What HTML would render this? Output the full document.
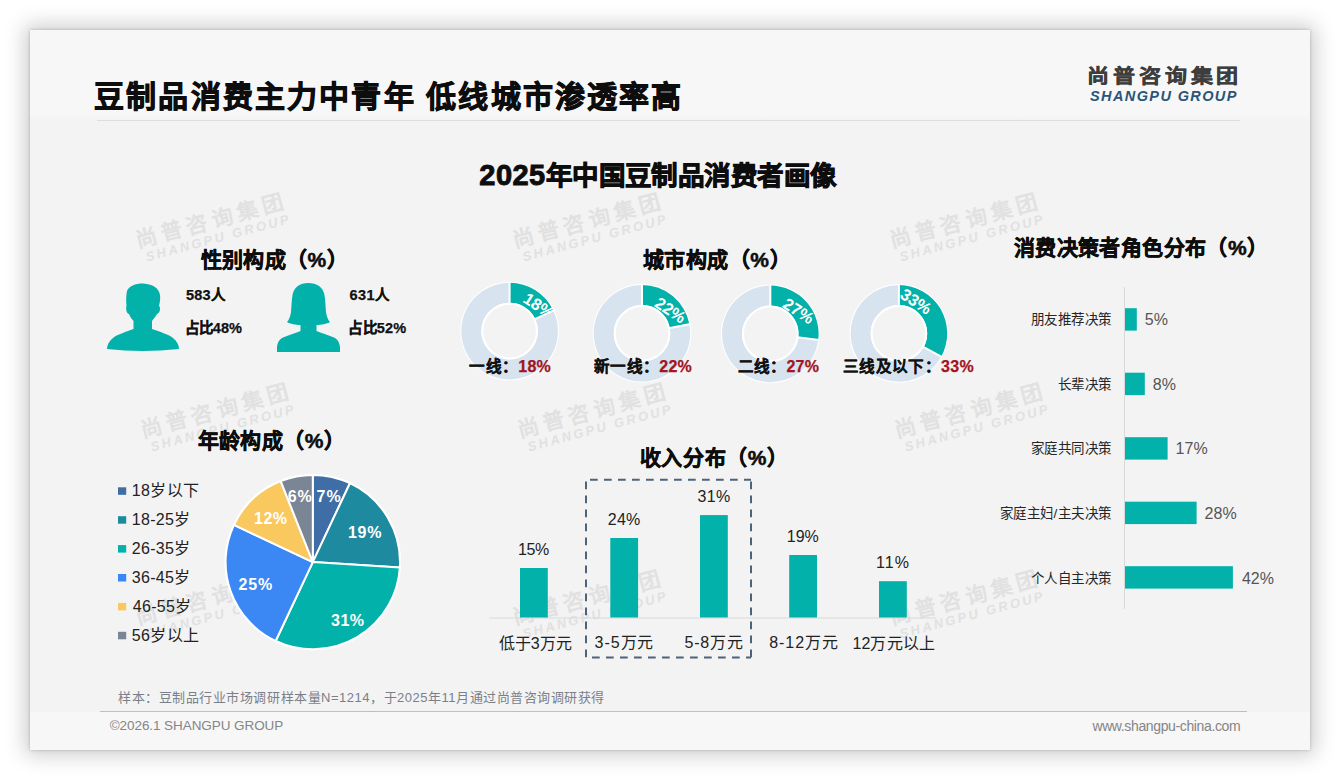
<!DOCTYPE html>
<html lang="zh-CN"><head><meta charset="utf-8"><style>
*{margin:0;padding:0;box-sizing:border-box}
html,body{width:1340px;height:780px;background:#fff;overflow:hidden;font-family:"Liberation Sans",sans-serif}
.card{position:absolute;left:30px;top:30px;width:1280px;height:720px;background:#f3f3f3;box-shadow:0 0 3px rgba(0,0,0,0.22),0 0 20px 5px rgba(0,0,0,0.2)}
.foot{position:absolute;left:30px;top:712px;width:1280px;height:38px;background:#f7f7f7}
.hdr{position:absolute;left:30px;top:30px;width:1280px;height:90px;background:linear-gradient(to bottom,#f7f7f7 0,#f7f7f7 85px,#f3f3f3 90px)}
.g{position:absolute;left:0;top:0}
.t{position:absolute;white-space:nowrap;line-height:1.2}
.b{-webkit-text-stroke:0.9px currentColor}
.bm{-webkit-text-stroke:0.5px currentColor}
.bs{-webkit-text-stroke:0.25px currentColor}
.dl{font-family:"Liberation Sans",sans-serif;font-size:16.5px;font-weight:bold}
.wm{position:absolute;width:0;height:0}
.wm1,.wm2{position:absolute;white-space:nowrap;color:#e1e1e1;font-weight:bold;line-height:1}
.wm1{right:0;top:-2.5px;font-size:21.5px;letter-spacing:4.2px;transform-origin:100% 0;transform:rotate(-15deg)}
.wm2{right:-3.5px;top:18.5px;font-size:13px;letter-spacing:2.6px;font-style:italic;transform-origin:100% 0;transform:rotate(-15deg)}
</style></head><body>
<div class="card"></div><div class="hdr"></div><div class="foot"></div>
<div class="wm" style="left:285.6px;top:193.4px"><div class="wm1">尚普咨询集团</div><div class="wm2">SHANGPU GROUP</div></div><div class="wm" style="left:662.6px;top:193.4px"><div class="wm1">尚普咨询集团</div><div class="wm2">SHANGPU GROUP</div></div><div class="wm" style="left:1039.6px;top:193.4px"><div class="wm1">尚普咨询集团</div><div class="wm2">SHANGPU GROUP</div></div><div class="wm" style="left:290.6px;top:383.4px"><div class="wm1">尚普咨询集团</div><div class="wm2">SHANGPU GROUP</div></div><div class="wm" style="left:667.6px;top:383.4px"><div class="wm1">尚普咨询集团</div><div class="wm2">SHANGPU GROUP</div></div><div class="wm" style="left:1044.6px;top:383.4px"><div class="wm1">尚普咨询集团</div><div class="wm2">SHANGPU GROUP</div></div><div class="wm" style="left:285.6px;top:570.9px"><div class="wm1">尚普咨询集团</div><div class="wm2">SHANGPU GROUP</div></div><div class="wm" style="left:662.6px;top:570.9px"><div class="wm1">尚普咨询集团</div><div class="wm2">SHANGPU GROUP</div></div><div class="wm" style="left:1039.6px;top:570.9px"><div class="wm1">尚普咨询集团</div><div class="wm2">SHANGPU GROUP</div></div>
<svg class="g" width="1340" height="780" viewBox="0 0 1340 780" font-family="Liberation Sans, sans-serif"><line x1="97" y1="120.5" x2="1240" y2="120.5" stroke="#dedede" stroke-width="1"/><line x1="100" y1="711.5" x2="1247" y2="711.5" stroke="#b3c2d1" stroke-width="1"/><circle cx="509.6" cy="331.1" r="49.3" fill="#fff"/><path d="M509.60,282.80 A48.3,48.3 0 0 1 553.30,310.53 L535.21,319.05 A28.3,28.3 0 0 0 509.60,302.80 Z" fill="#02b1a9"/><text x="539" y="305.5" transform="rotate(33 539 305.5)" text-anchor="middle" dominant-baseline="central" fill="#fff" class="dl">18%</text><path d="M553.30,310.53 A48.3,48.3 0 1 1 509.59,282.80 L509.60,302.80 A28.3,28.3 0 1 0 535.21,319.05 Z" fill="#d7e3ef"/><circle cx="509.6" cy="331.1" r="27.3" fill="#f3f3f3" stroke="#fff" stroke-width="2"/><line x1="509.60" y1="303.80" x2="509.60" y2="281.80" stroke="#fff" stroke-width="2"/><line x1="534.30" y1="319.48" x2="554.21" y2="310.11" stroke="#fff" stroke-width="2"/><circle cx="642" cy="333.3" r="49.3" fill="#fff"/><path d="M642.00,285.00 A48.3,48.3 0 0 1 689.44,324.25 L669.80,328.00 A28.3,28.3 0 0 0 642.00,305.00 Z" fill="#02b1a9"/><text x="670.6" y="309.9" transform="rotate(33 670.6 309.9)" text-anchor="middle" dominant-baseline="central" fill="#fff" class="dl">22%</text><path d="M689.44,324.25 A48.3,48.3 0 1 1 641.99,285.00 L642.00,305.00 A28.3,28.3 0 1 0 669.80,328.00 Z" fill="#d7e3ef"/><circle cx="642" cy="333.3" r="27.3" fill="#f3f3f3" stroke="#fff" stroke-width="2"/><line x1="642.00" y1="306.00" x2="642.00" y2="284.00" stroke="#fff" stroke-width="2"/><line x1="668.82" y1="328.18" x2="690.43" y2="324.06" stroke="#fff" stroke-width="2"/><circle cx="770.3" cy="333.9" r="49.3" fill="#fff"/><path d="M770.30,285.60 A48.3,48.3 0 0 1 818.22,339.95 L798.38,337.45 A28.3,28.3 0 0 0 770.30,305.60 Z" fill="#02b1a9"/><text x="798.7" y="310.8" transform="rotate(33 798.7 310.8)" text-anchor="middle" dominant-baseline="central" fill="#fff" class="dl">27%</text><path d="M818.22,339.95 A48.3,48.3 0 1 1 770.29,285.60 L770.30,305.60 A28.3,28.3 0 1 0 798.38,337.45 Z" fill="#d7e3ef"/><circle cx="770.3" cy="333.9" r="27.3" fill="#f3f3f3" stroke="#fff" stroke-width="2"/><line x1="770.30" y1="306.60" x2="770.30" y2="284.60" stroke="#fff" stroke-width="2"/><line x1="797.38" y1="337.32" x2="819.21" y2="340.08" stroke="#fff" stroke-width="2"/><circle cx="898.9" cy="333.4" r="49.3" fill="#fff"/><path d="M898.90,285.10 A48.3,48.3 0 0 1 941.23,356.67 L923.70,347.03 A28.3,28.3 0 0 0 898.90,305.10 Z" fill="#02b1a9"/><text x="916.2" y="301.2" transform="rotate(33 916.2 301.2)" text-anchor="middle" dominant-baseline="central" fill="#fff" class="dl">33%</text><path d="M941.23,356.67 A48.3,48.3 0 1 1 898.89,285.10 L898.90,305.10 A28.3,28.3 0 1 0 923.70,347.03 Z" fill="#d7e3ef"/><circle cx="898.9" cy="333.4" r="27.3" fill="#f3f3f3" stroke="#fff" stroke-width="2"/><line x1="898.90" y1="306.10" x2="898.90" y2="284.10" stroke="#fff" stroke-width="2"/><line x1="922.82" y1="346.55" x2="942.10" y2="357.15" stroke="#fff" stroke-width="2"/><circle cx="312.8" cy="562.1" r="88.2" fill="#fff"/><path d="M312.80,562.10 L312.80,474.90 A87.2,87.2 0 0 1 349.93,483.20 Z" fill="#3f6ea6" stroke="#fff" stroke-width="2" stroke-linejoin="round"/><path d="M312.80,562.10 L349.93,483.20 A87.2,87.2 0 0 1 399.83,567.58 Z" fill="#1e8aa0" stroke="#fff" stroke-width="2" stroke-linejoin="round"/><path d="M312.80,562.10 L399.83,567.58 A87.2,87.2 0 0 1 275.67,641.00 Z" fill="#02b1a9" stroke="#fff" stroke-width="2" stroke-linejoin="round"/><path d="M312.80,562.10 L275.67,641.00 A87.2,87.2 0 0 1 233.90,524.97 Z" fill="#3b88f5" stroke="#fff" stroke-width="2" stroke-linejoin="round"/><path d="M312.80,562.10 L233.90,524.97 A87.2,87.2 0 0 1 280.70,481.02 Z" fill="#f9c85f" stroke="#fff" stroke-width="2" stroke-linejoin="round"/><path d="M312.80,562.10 L280.70,481.02 A87.2,87.2 0 0 1 312.80,474.90 Z" fill="#7a8596" stroke="#fff" stroke-width="2" stroke-linejoin="round"/><line x1="489" y1="618" x2="936.5" y2="618" stroke="#d9d9d9" stroke-width="1"/><rect x="520" y="568" width="27.8" height="49.5" fill="#02b1a9"/><rect x="610.3" y="538" width="27.8" height="79.5" fill="#02b1a9"/><rect x="700" y="515.1" width="27.8" height="102.4" fill="#02b1a9"/><rect x="789.2" y="555" width="27.8" height="62.5" fill="#02b1a9"/><rect x="879" y="581.2" width="27.8" height="36.3" fill="#02b1a9"/><path d="M590,479.8 H751 M586,481.5 V657.5 H751 M751,481.5 V657.5" fill="none" stroke="#4d6379" stroke-width="2" stroke-dasharray="7.7,6.3"/><line x1="1124.5" y1="287" x2="1124.5" y2="609" stroke="#d9d9d9" stroke-width="1"/><rect x="1125" y="308.2" width="11.8" height="22.4" fill="#02b1a9"/><rect x="1125" y="372.7" width="19.8" height="22.4" fill="#02b1a9"/><rect x="1125" y="437.2" width="42.6" height="22.4" fill="#02b1a9"/><rect x="1125" y="501.7" width="71.6" height="22.4" fill="#02b1a9"/><rect x="1125" y="566.2" width="107.9" height="22.4" fill="#02b1a9"/><rect x="118" y="487.3" width="8.2" height="7.5" fill="#3f6ea6"/><rect x="118" y="516.2" width="8.2" height="7.5" fill="#1e8aa0"/><rect x="118" y="545.1" width="8.2" height="7.5" fill="#02b1a9"/><rect x="118" y="574.0" width="8.2" height="7.5" fill="#3b88f5"/><rect x="118" y="602.9" width="8.2" height="7.5" fill="#f9c85f"/><rect x="118" y="631.8" width="8.2" height="7.5" fill="#7a8596"/><path fill="#02b1a9" d="M133.5,321 L133.5,329 C126,332 118,334 113,338 C109,341 107,345 107,349 Q142,353 179,349 C179,345 177,341 173,338 C168,334 160,332 152,329 L152,321 C154,318 156,316 157,314 C159,313 160,311 160,309 C160,307 159.5,306 159,306 C160,302 160.5,298 160,295 C159,289 154,284 143,283.5 C135,283.5 129,286 127,291 C126,296 126,301 126.5,306 C126,307 126,309 126.5,311 C127,313 128,314 129,314 C130,317 132,319 133.5,321 Z"/><path fill="#02b1a9" d="M308,283 C300,283 294,287 292.5,295 C291.5,301 291.5,307 291,312 C290.5,316 289,320 287,322 C290,324 296,325 300.5,325 L300.5,331 C296,333 289,335 283,337.5 C279,339.5 277.5,343 277,347 L277,352 L340,352 L340,347 C339.5,343 338,339.5 334,337.5 C328,335 321,333 316.5,331 L316.5,325 C321,325 327,324 330,322 C328,320 326.5,316 326,312 C325.5,307 325.5,301 324.5,295 C323,287 317,283 308,283 Z"/></svg>
<div class="t b" style="left:94.0px;top:78.8px;font-size:30px;font-weight:bold;letter-spacing:2.17px;color:#0d0d0d">豆制品消费主力中青年 低线城市渗透率高</div><div class="t bm" style="left:1087.0px;top:64.2px;font-size:22px;font-weight:bold;transform:scaleY(0.86);transform-origin:0 50%;letter-spacing:3.88px;color:#3d3d3d">尚普咨询集团</div><div class="t " style="left:1090.0px;top:87.8px;font-size:14.5px;font-weight:bold;font-style:italic;letter-spacing:1.39px;color:#2b5479">SHANGPU GROUP</div><div class="t b" style="left:479.3px;top:158.4px;font-size:26.5px;font-weight:bold;letter-spacing:0.45px;color:#0d0d0d"><span style="font-size:29px">2025</span>年中国豆制品消费者画像</div><div class="t bm" style="left:200.7px;top:247.4px;font-size:21px;font-weight:bold;letter-spacing:0.37px;color:#0d0d0d">性别构成（%）</div><div class="t bm" style="left:642.5px;top:246.6px;font-size:21px;font-weight:bold;letter-spacing:0.57px;color:#0d0d0d">城市构成（%）</div><div class="t bm" style="left:197.5px;top:427.6px;font-size:21px;font-weight:bold;letter-spacing:0.47px;color:#0d0d0d">年龄构成（%）</div><div class="t bm" style="left:639.7px;top:445.0px;font-size:21px;font-weight:bold;letter-spacing:0.63px;color:#0d0d0d">收入分布（%）</div><div class="t bm" style="left:1013.7px;top:235.4px;font-size:21px;font-weight:bold;letter-spacing:0.42px;color:#0d0d0d">消费决策者角色分布（%）</div><div class="t bs" style="left:186.0px;top:286.6px;font-size:14.5px;font-weight:bold;letter-spacing:0.2px;color:#111">583人</div><div class="t bs" style="left:184.5px;top:319.9px;font-size:14.5px;font-weight:bold;letter-spacing:0.12px;color:#111">占比48%</div><div class="t bs" style="left:349.6px;top:286.6px;font-size:14.5px;font-weight:bold;letter-spacing:0.4px;color:#111">631人</div><div class="t bs" style="left:348.4px;top:319.9px;font-size:14.5px;font-weight:bold;letter-spacing:0.2px;color:#111">占比52%</div><div class="t bs" style="left:469.3px;top:357.1px;font-size:16px;font-weight:bold;letter-spacing:0.3px;color:#111"><span style="font-size:15.5px">一线：</span><span style="color:#a3141f">18%</span></div><div class="t bs" style="left:594.0px;top:357.1px;font-size:16px;font-weight:bold;letter-spacing:0.3px;color:#111"><span style="font-size:15.5px">新一线：</span><span style="color:#a3141f">22%</span></div><div class="t bs" style="left:737.5px;top:357.1px;font-size:16px;font-weight:bold;letter-spacing:0.3px;color:#111"><span style="font-size:15.5px">二线：</span><span style="color:#a3141f">27%</span></div><div class="t bs" style="left:843.2px;top:357.1px;font-size:16px;font-weight:bold;letter-spacing:0.3px;color:#111"><span style="font-size:15.5px">三线及以下：</span><span style="color:#a3141f">33%</span></div><div class="t " style="left:131.7px;top:481.4px;font-size:16px;letter-spacing:0.35px;color:#222">18岁以下</div><div class="t " style="left:131.7px;top:510.2px;font-size:16px;letter-spacing:0.35px;color:#222">18-25岁</div><div class="t " style="left:131.7px;top:539.1px;font-size:16px;letter-spacing:0.35px;color:#222">26-35岁</div><div class="t " style="left:131.7px;top:568.1px;font-size:16px;letter-spacing:0.35px;color:#222">36-45岁</div><div class="t " style="left:132.7px;top:597.0px;font-size:16px;letter-spacing:0.35px;color:#222">46-55岁</div><div class="t " style="left:131.7px;top:625.9px;font-size:16px;letter-spacing:0.35px;color:#222">56岁以上</div><div class="t " style="left:316.6px;top:486.9px;font-size:16px;font-weight:bold;letter-spacing:0.9px;color:#fff">7%</div><div class="t " style="left:287.8px;top:486.9px;font-size:16px;font-weight:bold;letter-spacing:0.9px;color:#fff">6%</div><div class="t " style="left:254.1px;top:508.5px;font-size:16px;font-weight:bold;letter-spacing:0.45px;color:#fff">12%</div><div class="t " style="left:347.9px;top:523.2px;font-size:16px;font-weight:bold;letter-spacing:0.75px;color:#fff">19%</div><div class="t " style="left:238.4px;top:575.0px;font-size:16px;font-weight:bold;letter-spacing:0.95px;color:#fff">25%</div><div class="t " style="left:331.1px;top:611.1px;font-size:16px;font-weight:bold;letter-spacing:0.45px;color:#fff">31%</div><div class="t " style="left:518.0px;top:539.5px;font-size:16px;letter-spacing:-0.35px;color:#222">15%</div><div class="t " style="left:607.8px;top:509.5px;font-size:16px;letter-spacing:0.25px;color:#222">24%</div><div class="t " style="left:697.5px;top:486.6px;font-size:16px;letter-spacing:0.3px;color:#222">31%</div><div class="t " style="left:786.7px;top:526.5px;font-size:16px;letter-spacing:0.05px;color:#222">19%</div><div class="t " style="left:876.0px;top:552.7px;font-size:16px;letter-spacing:1.05px;color:#222">11%</div><div class="t " style="left:498.5px;top:634.1px;font-size:16px;letter-spacing:0.12px;color:#222">低于3万元</div><div class="t " style="left:594.6px;top:633.1px;font-size:16px;letter-spacing:0.93px;color:#222">3-5万元</div><div class="t " style="left:684.4px;top:633.1px;font-size:16px;letter-spacing:0.85px;color:#222">5-8万元</div><div class="t " style="left:769.2px;top:633.1px;font-size:16px;letter-spacing:0.98px;color:#222">8-12万元</div><div class="t " style="left:852.6px;top:634.1px;font-size:16px;letter-spacing:0.04px;color:#222">12万元以上</div><div class="t " style="left:1031.0px;top:312.4px;font-size:13.5px;letter-spacing:0.4px;color:#262626">朋友推荐决策</div><div class="t " style="left:1144.8px;top:310.4px;font-size:16px;letter-spacing:0px;color:#555">5%</div><div class="t " style="left:1058.0px;top:376.9px;font-size:13.5px;letter-spacing:0.4px;color:#262626">长辈决策</div><div class="t " style="left:1152.8px;top:374.9px;font-size:16px;letter-spacing:0px;color:#555">8%</div><div class="t " style="left:1031.0px;top:441.4px;font-size:13.5px;letter-spacing:0.4px;color:#262626">家庭共同决策</div><div class="t " style="left:1175.6px;top:439.4px;font-size:16px;letter-spacing:0px;color:#555">17%</div><div class="t " style="left:1000.0px;top:506.0px;font-size:13.5px;letter-spacing:0.4px;color:#262626">家庭主妇/主夫决策</div><div class="t " style="left:1204.6px;top:504.0px;font-size:16px;letter-spacing:0px;color:#555">28%</div><div class="t " style="left:1031.0px;top:570.5px;font-size:13.5px;letter-spacing:0.4px;color:#262626">个人自主决策</div><div class="t " style="left:1241.9px;top:568.5px;font-size:16px;letter-spacing:0px;color:#555">42%</div><div class="t " style="left:118.4px;top:689.8px;font-size:13px;letter-spacing:0.51px;color:#7b7f88">样本：豆制品行业市场调研样本量N=1214，于2025年11月通过尚普咨询调研获得</div><div class="t " style="left:109.7px;top:717.9px;font-size:13.5px;letter-spacing:-0.07px;color:#858585">©2026.1 SHANGPU GROUP</div><div class="t " style="left:1092.4px;top:717.5px;font-size:14px;letter-spacing:-0.37px;color:#858585">www.shangpu-china.com</div>
</body></html>
